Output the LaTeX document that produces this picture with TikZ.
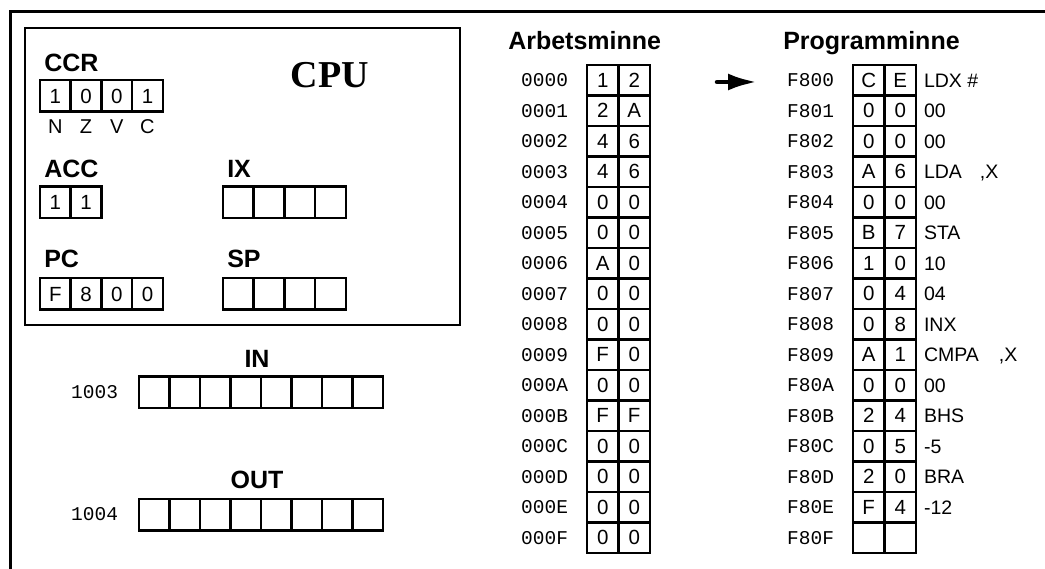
\documentclass[tikz,border=0pt]{standalone}
\usepackage{fontspec}
\setmainfont{Liberation Sans}
\setmonofont{Liberation Mono}
\newfontfamily\cpufont{Liberation Serif}
\usetikzlibrary{arrows.meta,positioning}

\begin{document}
\begin{tikzpicture}[x=1pt,y=-1pt,line width=2.5pt,
  cell/.style={draw,inner sep=0pt,outer sep=0pt,minimum width=31.5pt,minimum height=30.5pt,font=\fontsize{20.5}{20.5}\selectfont},
  regcell/.style={cell,minimum width=30.7pt,minimum height=31.5pt},
  iocell/.style={cell,minimum width=30.5pt,minimum height=31.5pt},
  addr/.style={inner sep=0pt,outer sep=0pt,font=\ttfamily\fontsize{19.5}{19.5}\selectfont},
  title/.style={inner sep=0pt,anchor=base west,font=\bfseries\fontsize{25}{25}\selectfont},
  flag/.style={inner sep=0pt,outer sep=0pt,text height=14pt,text depth=0pt,font=\fontsize{20}{20}\selectfont},
  note/.style={inner sep=0pt,outer sep=0pt,anchor=west,text height=13.6pt,text depth=0pt,font=\fontsize{19.5}{19.5}\selectfont},
  pointer/.style={-{Latex[length=29pt,width=17pt]},line width=4.5pt,line cap=round}]

\useasboundingbox (0,0) rectangle (1045,569);
\draw[line width=3pt] (10,569) -- (10,12) -- (1045,12);
\draw (25,28) rectangle (460,325);

\node[inner sep=0pt,font=\cpufont\bfseries\fontsize{38}{38}\selectfont] (cpu) at (330,75) {CPU};

\node[title] (ccr) at (43,71.5) {CCR};
\node[regcell] (C1) at (55.35,96) {1};
\node[regcell,right=0pt of C1] (C2) {0};
\node[regcell,right=0pt of C2] (C3) {0};
\node[regcell,right=0pt of C3] (C4) {1};
\node[flag,below=8pt of C1] (fN) {N};
\node[flag,below=8pt of C2] (fZ) {Z};
\node[flag,below=8pt of C3] (fV) {V};
\node[flag,below=8pt of C4] (fC) {C};

\node[title] (acc) at (43,178) {ACC};
\node[regcell] (ACC1) at (55.35,202.5) {1};
\node[regcell,right=0pt of ACC1] (ACC2) {1};

\node[title] (ix) at (226,178) {IX};
\node[regcell] (IX1) at (238.35,202.5) {};
\foreach \j [count=\k from 2] in {1,2,3}
  \node[regcell,right=0pt of IX\j] (IX\k) {};

\node[title] (pc) at (43,268) {PC};
\node[regcell] (PC1) at (55.35,294) {F};
\node[regcell,right=0pt of PC1] (PC2) {8};
\node[regcell,right=0pt of PC2] (PC3) {0};
\node[regcell,right=0pt of PC3] (PC4) {0};

\node[title] (sp) at (226,268) {SP};
\node[regcell] (SP1) at (238.35,294) {};
\foreach \j [count=\k from 2] in {1,2,3}
  \node[regcell,right=0pt of SP\j] (SP\k) {};

\node[title,anchor=base] (in) at (257,368) {IN};
\node[iocell] (IN1) at (154.25,392.5) {};
\foreach \j [count=\k from 2] in {1,...,7}
  \node[iocell,right=0pt of IN\j] (IN\k) {};
\node[addr,left=21pt of IN1] (inaddr) {1003};

\node[title,anchor=base] (out) at (257,488) {OUT};
\node[iocell] (OUT1) at (154.25,514.5) {};
\foreach \j [count=\k from 2] in {1,...,7}
  \node[iocell,right=0pt of OUT\j] (OUT\k) {};
\node[addr,left=21pt of OUT1] (outaddr) {1004};

\node[title] (arb) at (507,50) {Arbetsminne};
\foreach \i/\h/\a/\b in {0/0/1/2,1/1/2/A,2/2/4/6,3/3/4/6,4/4/0/0,5/5/0/0,6/6/A/0,7/7/0/0,
                         8/8/0/0,9/9/F/0,10/A/0/0,11/B/F/F,12/C/0/0,13/D/0/0,14/E/0/0,15/F/0/0}{
  \node[cell] (AH\i) at (602.75,80.25+30.5*\i) {\a};
  \node[cell,right=0pt of AH\i] (AL\i) {\b};
  \node[addr,left=19pt of AH\i] (AA\i) {000\h};
}

\node[title] (prog) at (782,50) {Programminne};
\foreach \i/\h/\a/\b/\c in {0/0/C/E/{LDX \#},1/1/0/0/00,2/2/0/0/00,3/3/A/6/{LDA\hspace{18pt},X},
                            4/4/0/0/00,5/5/B/7/STA,6/6/1/0/10,7/7/0/4/04,8/8/0/8/INX,
                            9/9/A/1/{CMPA\hspace{20pt},X},10/A/0/0/00,11/B/2/4/BHS,12/C/0/5/-5,
                            13/D/2/0/BRA,14/E/F/4/-12,15/F/{}/{}/{}}{
  \node[cell] (PH\i) at (868.75,80.25+30.5*\i) {\a};
  \node[cell,right=0pt of PH\i] (PL\i) {\b};
  \node[addr,left=19pt of PH\i] (PA\i) {F80\h};
  \node[note,right=8pt of PL\i] (PN\i) {\c};
}

\coordinate (ptrtail) at (717,82);
\coordinate[right=40pt of ptrtail] (ptrhead);
\draw[pointer] (ptrtail) -- (ptrhead);

\end{tikzpicture}
\end{document}
